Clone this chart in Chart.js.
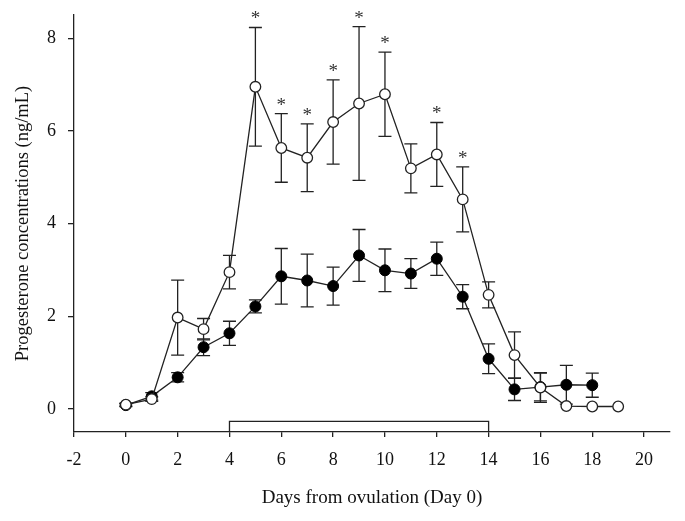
<!DOCTYPE html>
<html>
<head>
<meta charset="utf-8">
<script src="https://cdn.jsdelivr.net/npm/chart.js@4/dist/chart.umd.min.js"></script>
<style>
  body { margin: 0; background: #fff; }
</style>
</head>
<body>
<canvas id="prog-chart" width="685" height="521"></canvas>
<script>
  const ctx = document.getElementById('prog-chart').getContext('2d');

  // open circles
  const openDays = [0, 1, 2, 3, 4, 5, 6, 7, 8, 9, 10, 11, 12, 13, 14, 15, 16, 17, 18, 19];
  const openMean = [0.09, 0.21, 1.97, 1.72, 2.95, 6.95, 5.63, 5.42, 6.19, 6.59, 6.79, 5.19, 5.49, 4.52, 2.46, 1.16, 0.46, 0.06, 0.05, 0.05];
  const openSem = [0.03, 0.05, 0.81, 0.23, 0.36, 1.28, 0.74, 0.73, 0.91, 1.66, 0.91, 0.53, 0.69, 0.7, 0.28, 0.5, 0.32, 0, 0, 0];

  // filled circles
  const filledDays = [0, 1, 2, 3, 4, 5, 6, 7, 8, 9, 10, 11, 12, 13, 14, 15, 16, 17, 18];
  const filledMean = [0.08, 0.27, 0.68, 1.33, 1.63, 2.21, 2.86, 2.77, 2.65, 3.31, 2.99, 2.92, 3.24, 2.42, 1.08, 0.42, 0.47, 0.52, 0.51];
  const filledSem = [0.03, 0.08, 0.1, 0.18, 0.26, 0.14, 0.6, 0.57, 0.41, 0.56, 0.46, 0.32, 0.36, 0.26, 0.32, 0.24, 0.3, 0.42, 0.26];

  // days marked with * (open series)
  const starDays = [5, 6, 7, 8, 9, 10, 12, 13];

  // treatment bar (day 4 to 14)
  const barStart = 4;
  const barEnd = 14;
  const barTop = -0.27;

  const xTicks = [-2, 0, 2, 4, 6, 8, 10, 12, 14, 16, 18, 20];
  const yTicks = [0, 2, 4, 6, 8];

  const FONT = "'Liberation Serif', 'Times New Roman', serif";

  const toPoints = (xs, ys) => xs.map((x, i) => ({ x: x, y: ys[i] }));

  const errorBars = {
    id: 'errorBars',
    beforeDatasetsDraw(chart) {
      const c = chart.ctx;
      const xs = chart.scales.x;
      const ys = chart.scales.y;
      const sets = [
        [openDays, openMean, openSem],
        [filledDays, filledMean, filledSem],
      ];
      c.save();
      c.strokeStyle = '#222';
      c.lineWidth = 1.3;
      sets.forEach(([days, mean, sem]) => {
        days.forEach((d, i) => {
          if (!sem[i]) return;
          const px = xs.getPixelForValue(d);
          const top = ys.getPixelForValue(mean[i] + sem[i]);
          const bot = ys.getPixelForValue(mean[i] - sem[i]);
          c.beginPath();
          c.moveTo(px, top);
          c.lineTo(px, bot);
          c.moveTo(px - 6.5, top);
          c.lineTo(px + 6.5, top);
          c.moveTo(px - 6.5, bot);
          c.lineTo(px + 6.5, bot);
          c.stroke();
        });
      });
      c.restore();
    },
    afterDatasetsDraw(chart) {
      const c = chart.ctx;
      const xs = chart.scales.x;
      const ys = chart.scales.y;
      c.save();
      c.fillStyle = '#333';
      c.font = '19px ' + FONT;
      c.textAlign = 'center';
      c.textBaseline = 'middle';
      starDays.forEach(d => {
        const i = openDays.indexOf(d);
        const px = xs.getPixelForValue(d);
        const top = ys.getPixelForValue(openMean[i] + openSem[i]);
        c.fillText('*', px, top - 8);
      });
      c.restore();
    },
  };

  const chart = new Chart(ctx, {
    type: 'line',
    data: {
      datasets: [
        {
          label: 'Open',
          data: toPoints(openDays, openMean),
          borderColor: '#222',
          borderWidth: 1.3,
          pointRadius: 5.3,
          pointBackgroundColor: '#fff',
          pointBorderColor: '#222',
          pointBorderWidth: 1.3,
          tension: 0,
        },
        {
          label: 'Filled',
          data: toPoints(filledDays, filledMean),
          borderColor: '#222',
          borderWidth: 1.3,
          pointRadius: 5.5,
          pointBackgroundColor: '#000',
          pointBorderColor: '#000',
          pointBorderWidth: 1,
          tension: 0,
        },
        {
          label: 'Bar',
          data: [
            { x: barStart, y: -0.5 },
            { x: barStart, y: barTop },
            { x: barEnd, y: barTop },
            { x: barEnd, y: -0.5 },
          ],
          borderColor: '#222',
          borderWidth: 1.3,
          pointRadius: 0,
          tension: 0,
        },
      ],
    },
    options: {
      responsive: false,
      animation: false,
      layout: { padding: { top: 15, right: 15, left: 0, bottom: 0 } },
      plugins: {
        legend: { display: false },
        tooltip: { enabled: false },
      },
      scales: {
        x: {
          type: 'linear',
          min: -2,
          max: 21,
          afterBuildTicks: s => { s.ticks = xTicks.map(v => ({ value: v })); },
          afterFit: s => { s.height = 89; s.paddingLeft = 0; s.paddingRight = 0; },
          grid: { drawOnChartArea: false, tickLength: 5, color: '#222', lineWidth: 1.3 },
          border: { color: '#222', width: 1.3 },
          ticks: { color: '#111', font: { family: FONT, size: 18 }, padding: 12, maxRotation: 0 },
          title: {
            display: true,
            text: 'Days from ovulation (Day 0)',
            color: '#111',
            font: { family: FONT, size: 19 },
            padding: { top: 4, bottom: 12 },
          },
        },
        y: {
          min: -0.5,
          max: 8.5,
          afterBuildTicks: s => { s.ticks = yTicks.map(v => ({ value: v })); },
          afterFit: s => { s.width = 74; s.paddingTop = 0; s.paddingBottom = 0; },
          grid: { drawOnChartArea: false, tickLength: 6, color: '#222', lineWidth: 1.3 },
          border: { color: '#222', width: 1.3 },
          ticks: { color: '#111', font: { family: FONT, size: 18 }, padding: 12 },
          title: {
            display: true,
            text: 'Progesterone concentrations (ng/mL)',
            color: '#111',
            font: { family: FONT, size: 18.5 },
            padding: { top: 12, bottom: 4 },
          },
        },
      },
    },
    plugins: [errorBars],
  });
</script>
</body>
</html>
